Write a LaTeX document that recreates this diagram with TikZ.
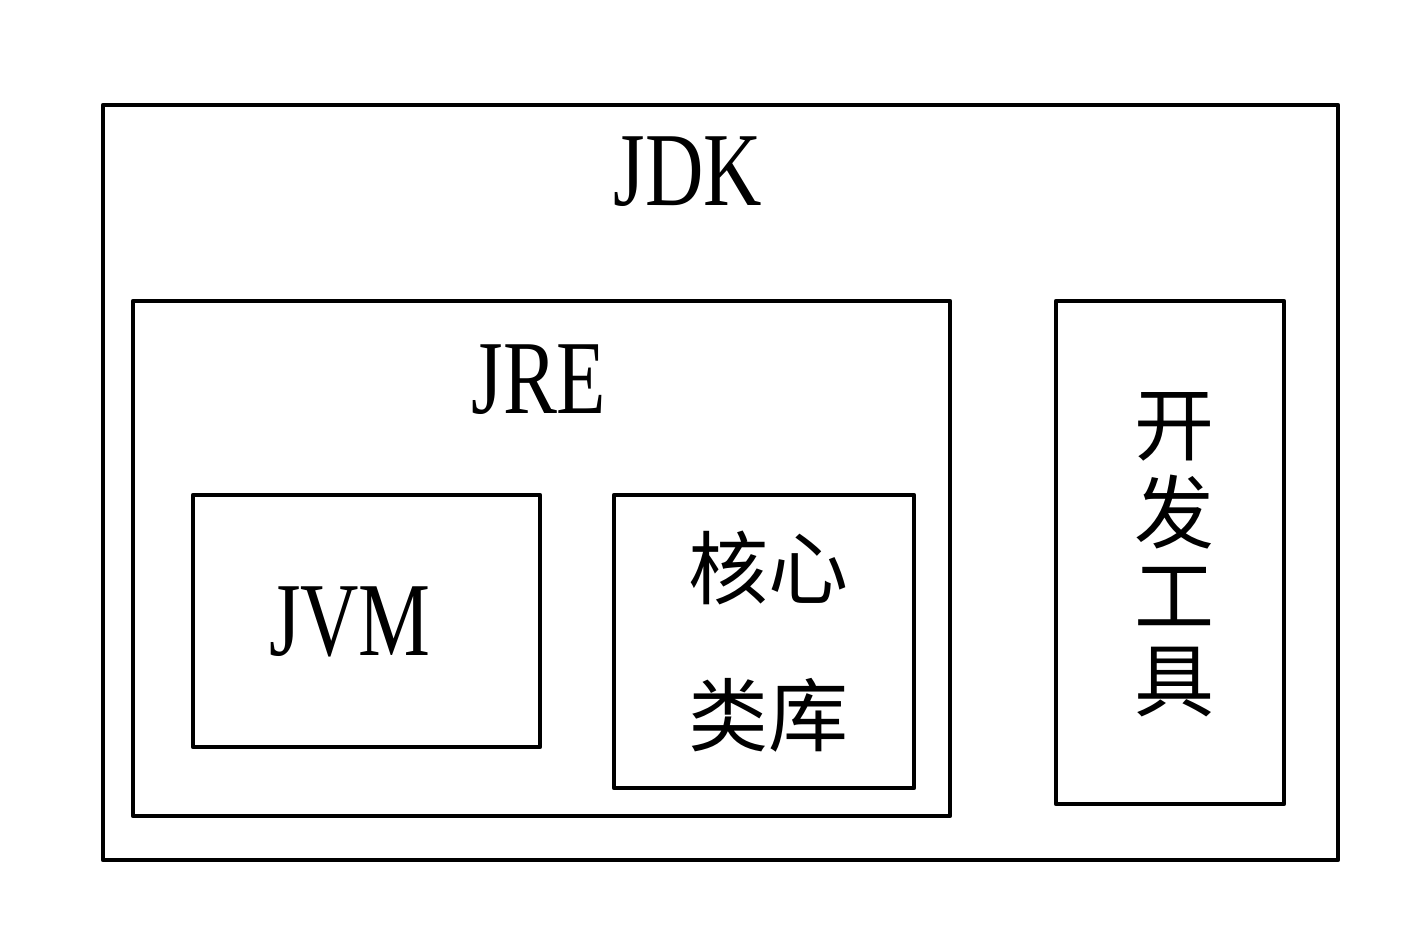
\documentclass[tikz,border=0pt]{standalone}
\usepackage{fontspec}
\usepackage{tikz}
\newfontfamily\latinfont[FakeStretch=0.77]{Liberation Serif}
\newfontfamily\cjk{Noto Sans CJK SC}
\tikzset{
  box/.style={draw,line width=4.5pt},
  latin/.style={inner sep=0pt,anchor=base,font=\fontsize{105}{110}\selectfont\latinfont},
  hanzi/.style={inner sep=0pt,anchor=center,font=\fontsize{80}{85}\selectfont\cjk}
}

\begin{document}
\begin{tikzpicture}[line cap=round,line join=round,x=1pt,y=-1pt]
\useasboundingbox (0,0) rectangle (1417,945);
% boxes
\draw[box] (103,105) rectangle (1338,860);
\draw[box] (133,301) rectangle (950,816);
\draw[box] (193,495) rectangle (540,747);
\draw[box] (614,495) rectangle (914,788);
\draw[box] (1056,301) rectangle (1284,804);
% labels
\node[latin] (jdk) at (688,205) {JDK};
\node[latin] (jre) at (539,413) {JRE};
\node[latin] (jvm) at (350,655) {JVM};
\node[hanzi] (hexin) at (768,568) {核心};
\node[hanzi] (leiku) at (768,715) {类库};
\foreach \c [count=\i] in {开,发,工,具}
  \node[hanzi] (tool\i) at (1174,342+85*\i) {\c};
\end{tikzpicture}
\end{document}
